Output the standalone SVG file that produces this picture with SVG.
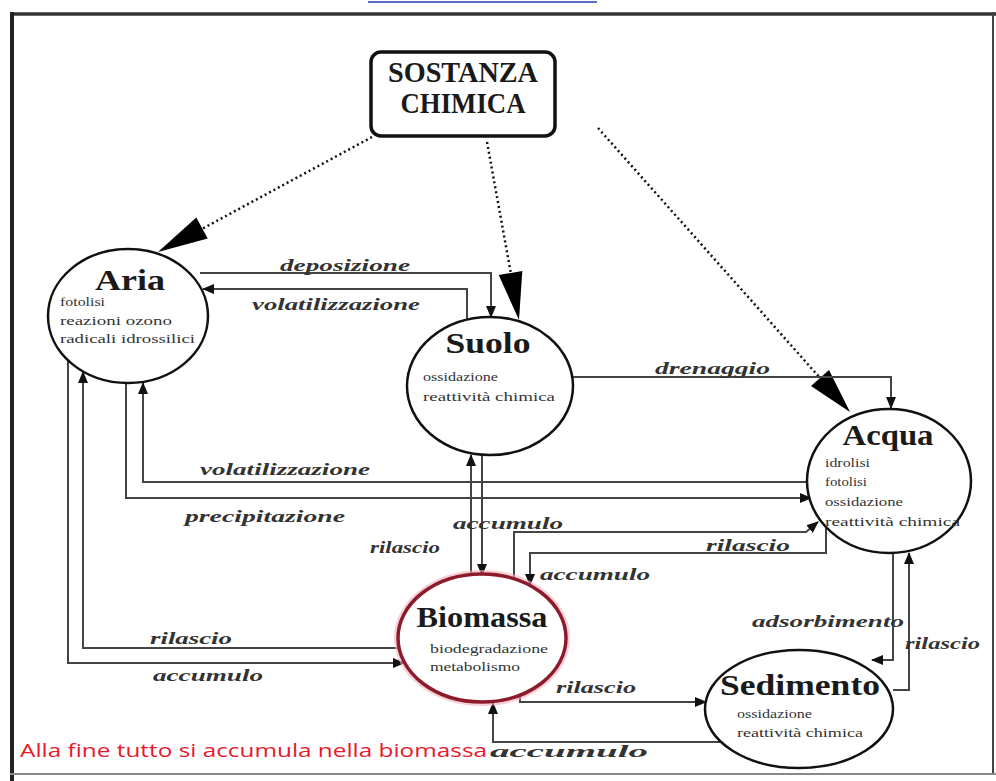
<svg xmlns="http://www.w3.org/2000/svg" width="996" height="781" viewBox="0 0 996 781">
<style>
.node{fill:#fff;stroke:#111;stroke-width:2.5}
.bio{fill:#fff;stroke:#8c1c2c;stroke-width:3.5}
.title{font-family:"Liberation Serif",serif;font-weight:bold;font-size:30px;fill:#1a1a1a}
.sub{font-family:"Liberation Serif",serif;font-size:13px;fill:#333}
.lbl{font-family:"Liberation Serif",serif;font-weight:bold;font-style:italic;font-size:17px;fill:#333}
.conn{fill:none;stroke:#444;stroke-width:2}
.dot{fill:none;stroke:#111;stroke-width:2.5;stroke-dasharray:2 3}
.big{fill:#000}
</style>
<defs>
<marker id="ah" markerWidth="12" markerHeight="10" refX="11" refY="5" orient="auto" markerUnits="userSpaceOnUse">
<path d="M0,0 L12,5 L0,10 Z" fill="#111"/>
</marker>
</defs>
<rect width="996" height="781" fill="#fff"/>
<line x1="368" y1="2" x2="597" y2="2" stroke="#5a6fc0" stroke-width="2"/>
<g id="frame" fill="none">
<line x1="10" y1="14" x2="996" y2="14" stroke="#333" stroke-width="3.5"/>
<line x1="12" y1="12" x2="12" y2="781" stroke="#222" stroke-width="4"/>
<line x1="993" y1="12" x2="993" y2="775" stroke="#444" stroke-width="2"/>
<line x1="10" y1="774" x2="996" y2="774" stroke="#888" stroke-width="2"/>
</g>
<g id="connectors">
<path class="dot" d="M372,137 L200,230"/>
<polygon class="big" points="158,252 207.7,238.6 196.3,217.4"/>
<path class="dot" d="M487,142 L511,274"/>
<polygon class="big" points="519,320 522.3,270.9 498.7,275.1"/>
<path class="dot" d="M598,128 L821,379"/>
<polygon class="big" points="850,412 829,370 811,386"/>
<path class="conn" d="M200,273 H491 V317" marker-end="url(#ah)"/>
<path class="conn" d="M467,322 V289 H203" marker-end="url(#ah)"/>
<path class="conn" d="M572,377 H891 V408" marker-end="url(#ah)"/>
<path class="conn" d="M811,482 H143 V383" marker-end="url(#ah)"/>
<path class="conn" d="M126,383 V498 H811" marker-end="url(#ah)"/>
<path class="conn" d="M399,648 H83 V372" marker-end="url(#ah)"/>
<path class="conn" d="M68,360 V663 H404" marker-end="url(#ah)"/>
<path class="conn" d="M471,576 V455" marker-end="url(#ah)"/>
<path class="conn" d="M482,455 V575" marker-end="url(#ah)"/>
<path class="conn" d="M514,582 V532 H806 L818,522" marker-end="url(#ah)"/>
<path class="conn" d="M826,527 V553 H530 V585" marker-end="url(#ah)"/>
<path class="conn" d="M893,553 V660 H872" marker-end="url(#ah)"/>
<path class="conn" d="M893,690 H909 V553" marker-end="url(#ah)"/>
<path class="conn" d="M520,694 V702 H706" marker-end="url(#ah)"/>
<path class="conn" d="M722,742 H493 V703" marker-end="url(#ah)"/>
</g>
<g id="labels">
<text class="lbl" x="280" y="271" textLength="130" lengthAdjust="spacingAndGlyphs">deposizione</text>
<text class="lbl" x="252" y="310" textLength="168" lengthAdjust="spacingAndGlyphs">volatilizzazione</text>
<text class="lbl" x="655" y="374" textLength="115" lengthAdjust="spacingAndGlyphs">drenaggio</text>
<text class="lbl" x="200" y="475" textLength="170" lengthAdjust="spacingAndGlyphs">volatilizzazione</text>
<text class="lbl" x="185" y="522" textLength="160" lengthAdjust="spacingAndGlyphs">precipitazione</text>
<text class="lbl" x="453" y="529" textLength="110" lengthAdjust="spacingAndGlyphs">accumulo</text>
<text class="lbl" x="370" y="553" textLength="70" lengthAdjust="spacingAndGlyphs">rilascio</text>
<text class="lbl" x="706" y="551" textLength="84" lengthAdjust="spacingAndGlyphs">rilascio</text>
<text class="lbl" x="540" y="580" textLength="110" lengthAdjust="spacingAndGlyphs">accumulo</text>
<text class="lbl" x="752" y="627" textLength="152" lengthAdjust="spacingAndGlyphs">adsorbimento</text>
<text class="lbl" x="905" y="649" textLength="75" lengthAdjust="spacingAndGlyphs">rilascio</text>
<text class="lbl" x="150" y="644" textLength="82" lengthAdjust="spacingAndGlyphs">rilascio</text>
<text class="lbl" x="153" y="681" textLength="110" lengthAdjust="spacingAndGlyphs">accumulo</text>
<text class="lbl" x="556" y="693" textLength="80" lengthAdjust="spacingAndGlyphs">rilascio</text>
<text class="lbl" x="490" y="757" textLength="158" lengthAdjust="spacingAndGlyphs">accumulo</text>
</g>
<g id="sostanza">
<rect x="371" y="52" width="184" height="84" rx="10" fill="#fff" stroke="#111" stroke-width="3.5"/>
<text class="title" x="463" y="82" text-anchor="middle" font-size="24" textLength="150" lengthAdjust="spacingAndGlyphs">SOSTANZA</text>
<text class="title" x="463" y="113" text-anchor="middle" font-size="24" textLength="125" lengthAdjust="spacingAndGlyphs">CHIMICA</text>
</g>
<g id="aria">
<ellipse class="node" cx="128" cy="316" rx="80" ry="67"/>
<text class="title" x="130" y="290" text-anchor="middle" textLength="70" lengthAdjust="spacingAndGlyphs">Aria</text>
<text class="sub" x="60" y="306" textLength="45" lengthAdjust="spacingAndGlyphs">fotolisi</text>
<text class="sub" x="60" y="325" textLength="112" lengthAdjust="spacingAndGlyphs">reazioni ozono</text>
<text class="sub" x="60" y="343" textLength="135" lengthAdjust="spacingAndGlyphs">radicali idrossilici</text>
</g>
<g id="suolo">
<ellipse class="node" cx="490" cy="386" rx="83" ry="69"/>
<text class="title" x="488" y="353" text-anchor="middle" textLength="85" lengthAdjust="spacingAndGlyphs">Suolo</text>
<text class="sub" x="423" y="381" textLength="75" lengthAdjust="spacingAndGlyphs">ossidazione</text>
<text class="sub" x="423" y="401" textLength="132" lengthAdjust="spacingAndGlyphs">reattività chimica</text>
</g>
<g id="acqua">
<ellipse class="node" cx="889" cy="481" rx="82" ry="72"/>
<text class="title" x="888" y="445" text-anchor="middle" textLength="91" lengthAdjust="spacingAndGlyphs">Acqua</text>
<text class="sub" x="825" y="467" textLength="45" lengthAdjust="spacingAndGlyphs">idrolisi</text>
<text class="sub" x="825" y="486" textLength="42" lengthAdjust="spacingAndGlyphs">fotolisi</text>
<text class="sub" x="825" y="506" textLength="78" lengthAdjust="spacingAndGlyphs">ossidazione</text>
<text class="sub" x="825" y="526" textLength="135" lengthAdjust="spacingAndGlyphs">reattività chimica</text>
</g>
<g id="biomassa">
<ellipse cx="482" cy="638" rx="84" ry="64" fill="none" stroke="#f3b0bd" stroke-width="8" opacity="0.6"/>
<ellipse class="bio" cx="482" cy="638" rx="84" ry="64"/>
<text class="title" x="482" y="627" text-anchor="middle" textLength="131" lengthAdjust="spacingAndGlyphs">Biomassa</text>
<text class="sub" x="430" y="653" textLength="118" lengthAdjust="spacingAndGlyphs">biodegradazione</text>
<text class="sub" x="430" y="671" textLength="90" lengthAdjust="spacingAndGlyphs">metabolismo</text>
</g>
<g id="sedimento">
<ellipse class="node" cx="799" cy="709" rx="94" ry="59"/>
<text class="title" x="800" y="695" text-anchor="middle" textLength="160" lengthAdjust="spacingAndGlyphs">Sedimento</text>
<text class="sub" x="737" y="718" textLength="75" lengthAdjust="spacingAndGlyphs">ossidazione</text>
<text class="sub" x="737" y="737" textLength="126" lengthAdjust="spacingAndGlyphs">reattività chimica</text>
</g>
<text x="20" y="757" font-family="'Open Sans','Liberation Sans',sans-serif" font-size="19" fill="#e8192c" textLength="467" lengthAdjust="spacingAndGlyphs">Alla fine tutto si accumula nella biomassa</text>
</svg>
